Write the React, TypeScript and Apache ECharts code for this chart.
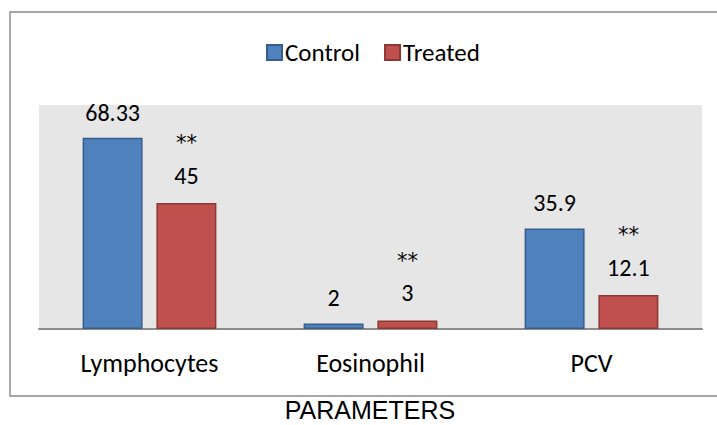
import React, { useEffect, useRef } from "react";
import * as echarts from "echarts";

const categories = ["Lymphocytes", "Eosinophil", "PCV"];
const controlValues = [68.33, 2, 35.9];
const treatedValues = [45, 3, 12.1];
const treatedMarks = ["**", "**", "**"];
const seriesNames = ["Control", "Treated"];
const axisTitle = "PARAMETERS";

const LABEL_FONT = "Carlito, Calibri, Lato, 'Open Sans', sans-serif";
const TITLE_FONT = "'Liberation Sans', Arial, sans-serif";
const MARK_FONT = "'DejaVu Sans', sans-serif";

export default function App() {
  const ref = useRef<HTMLDivElement>(null);

  useEffect(() => {
    document.body.style.margin = "0";
    if (!ref.current) return;
    const chart = echarts.init(ref.current, undefined, { renderer: "svg" });
    chart.setOption({
      animation: false,
      backgroundColor: "#ffffff",
      textStyle: { fontFamily: LABEL_FONT },
      graphic: [
        {
          type: "rect",
          shape: { x: 10, y: 12, width: 730, height: 384 },
          style: { fill: "none", stroke: "#8c8c8c", lineWidth: 1.5 },
          silent: true,
        },
        {
          type: "text",
          x: 370,
          y: 410,
          style: {
            text: axisTitle,
            fontFamily: TITLE_FONT,
            fontSize: 25,
            fill: "#000",
            align: "center",
            verticalAlign: "middle",
          },
        },
      ],
      legend: {
        top: 35,
        left: 261,
        itemWidth: 15,
        itemHeight: 15,
        itemGap: 24,
        icon: "rect",
        data: seriesNames,
        textStyle: { fontSize: 25, color: "#000", fontFamily: LABEL_FONT, padding: [0, 0, 0, -2] },
      },
      grid: {
        left: 39,
        right: 15,
        top: 105,
        bottom: 96,
        show: true,
        backgroundColor: "#e6e6e6",
        borderWidth: 0,
      },
      xAxis: {
        type: "category",
        data: categories,
        axisLine: { lineStyle: { color: "#8c8c8c", width: 2 } },
        axisTick: { show: false },
        axisLabel: { fontSize: 26, color: "#000", margin: 21, fontFamily: LABEL_FONT },
      },
      yAxis: {
        type: "value",
        min: 0,
        max: 80,
        show: false,
        splitLine: { show: false },
      },
      series: [
        {
          name: seriesNames[0],
          type: "bar",
          data: controlValues,
          barWidth: 60,
          barGap: "23%",
          itemStyle: { color: "#4f81bd", borderColor: "#385d8a", borderWidth: 1.5 },
          label: {
            show: true,
            position: "top",
            distance: 13.5,
            fontSize: 24,
            lineHeight: 24,
            color: "#000",
            fontFamily: LABEL_FONT,
          },
        },
        {
          name: seriesNames[1],
          type: "bar",
          data: treatedValues,
          barWidth: 60,
          itemStyle: { color: "#c0504d", borderColor: "#8c3836", borderWidth: 1.5 },
          label: {
            show: true,
            position: "top",
            distance: 16,
            color: "#000",
            fontFamily: LABEL_FONT,
            formatter: (p: any) => `{m|${treatedMarks[p.dataIndex]}}\n{v|${p.value}}`,
            rich: {
              m: { fontSize: 21, lineHeight: 40, color: "#000", fontFamily: MARK_FONT },
              v: { fontSize: 24, lineHeight: 24, color: "#000", fontFamily: LABEL_FONT },
            },
          },
        },
      ],
    });
    return () => chart.dispose();
  }, []);

  return <div ref={ref} style={{ width: 717, height: 425 }} />;
}
